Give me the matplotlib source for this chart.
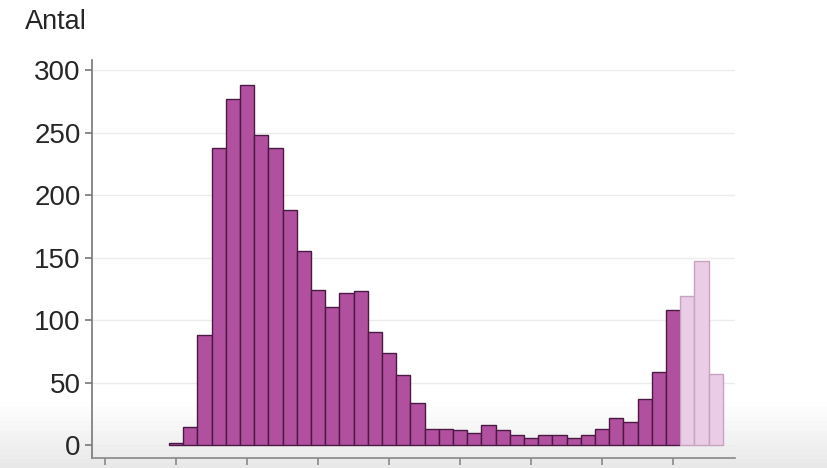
import matplotlib
matplotlib.use('Agg')
import matplotlib.pyplot as plt
import numpy as np

plt.rcParams['font.family'] = ['Liberation Sans', 'DejaVu Sans']

# bin centres and counts
bins = np.arange(5, 44)
counts = [2, 15, 88, 238, 277, 288, 248, 238, 188, 155,
          124, 111, 122, 123, 91, 74, 56, 34, 13, 13,
          12, 10, 16, 12, 8, 6, 8, 8, 6, 8,
          13, 22, 19, 37, 59, 108, 119, 147, 57]
n_dark = 36  # last three bins are the pale ones
yticks = [0, 50, 100, 150, 200, 250, 300]
xticks = np.arange(0, 45, 5)

fig = plt.figure(figsize=(8.28, 4.68), dpi=100)

# faint grey shading at the bottom of the frame
bg = fig.add_axes([0, 0, 1, 1], zorder=-5)
grad = np.ones((100, 1))
grad[85:, 0] = np.linspace(1.0, 0.91, 15)
bg.imshow(grad, aspect='auto', cmap='gray', vmin=0, vmax=1, extent=[0, 1, 0, 1])
bg.axis('off')

ax = fig.add_axes([0.111, 0.0214, 0.777, 0.8506])
ax.patch.set_alpha(0)

ax.bar(bins[:n_dark], counts[:n_dark], width=1.0, color='#b0509f',
       edgecolor='#4b1a44', linewidth=1.0, zorder=3)
ax.bar(bins[n_dark:], counts[n_dark:], width=1.0, color='#eacce6',
       edgecolor='#c7a2c1', linewidth=1.0, zorder=3)

ax.set_xlim(-0.92, 44.37)
ax.set_ylim(-10, 308)
ax.set_yticks(yticks)
ax.set_xticks(xticks)
ax.set_xticklabels([])
ax.yaxis.grid(True, color='#ececec', linewidth=1.0, zorder=0)

for s in ['top', 'right']:
    ax.spines[s].set_visible(False)
ax.spines['left'].set_color('#777777')
ax.spines['bottom'].set_color('#888888')
ax.spines['left'].set_linewidth(1.2)
ax.spines['bottom'].set_linewidth(1.2)
ax.tick_params(axis='y', length=5, width=1.2, color='#777777', pad=3,
               labelsize=20, labelcolor='#262626')
ax.tick_params(axis='x', length=5, width=1.2, color='#888888')

fig.text(0.03, 1 - 22 / 468, 'Antal', fontsize=19.5, color='#262626', va='center')

fig.savefig('out.png', dpi=100)
